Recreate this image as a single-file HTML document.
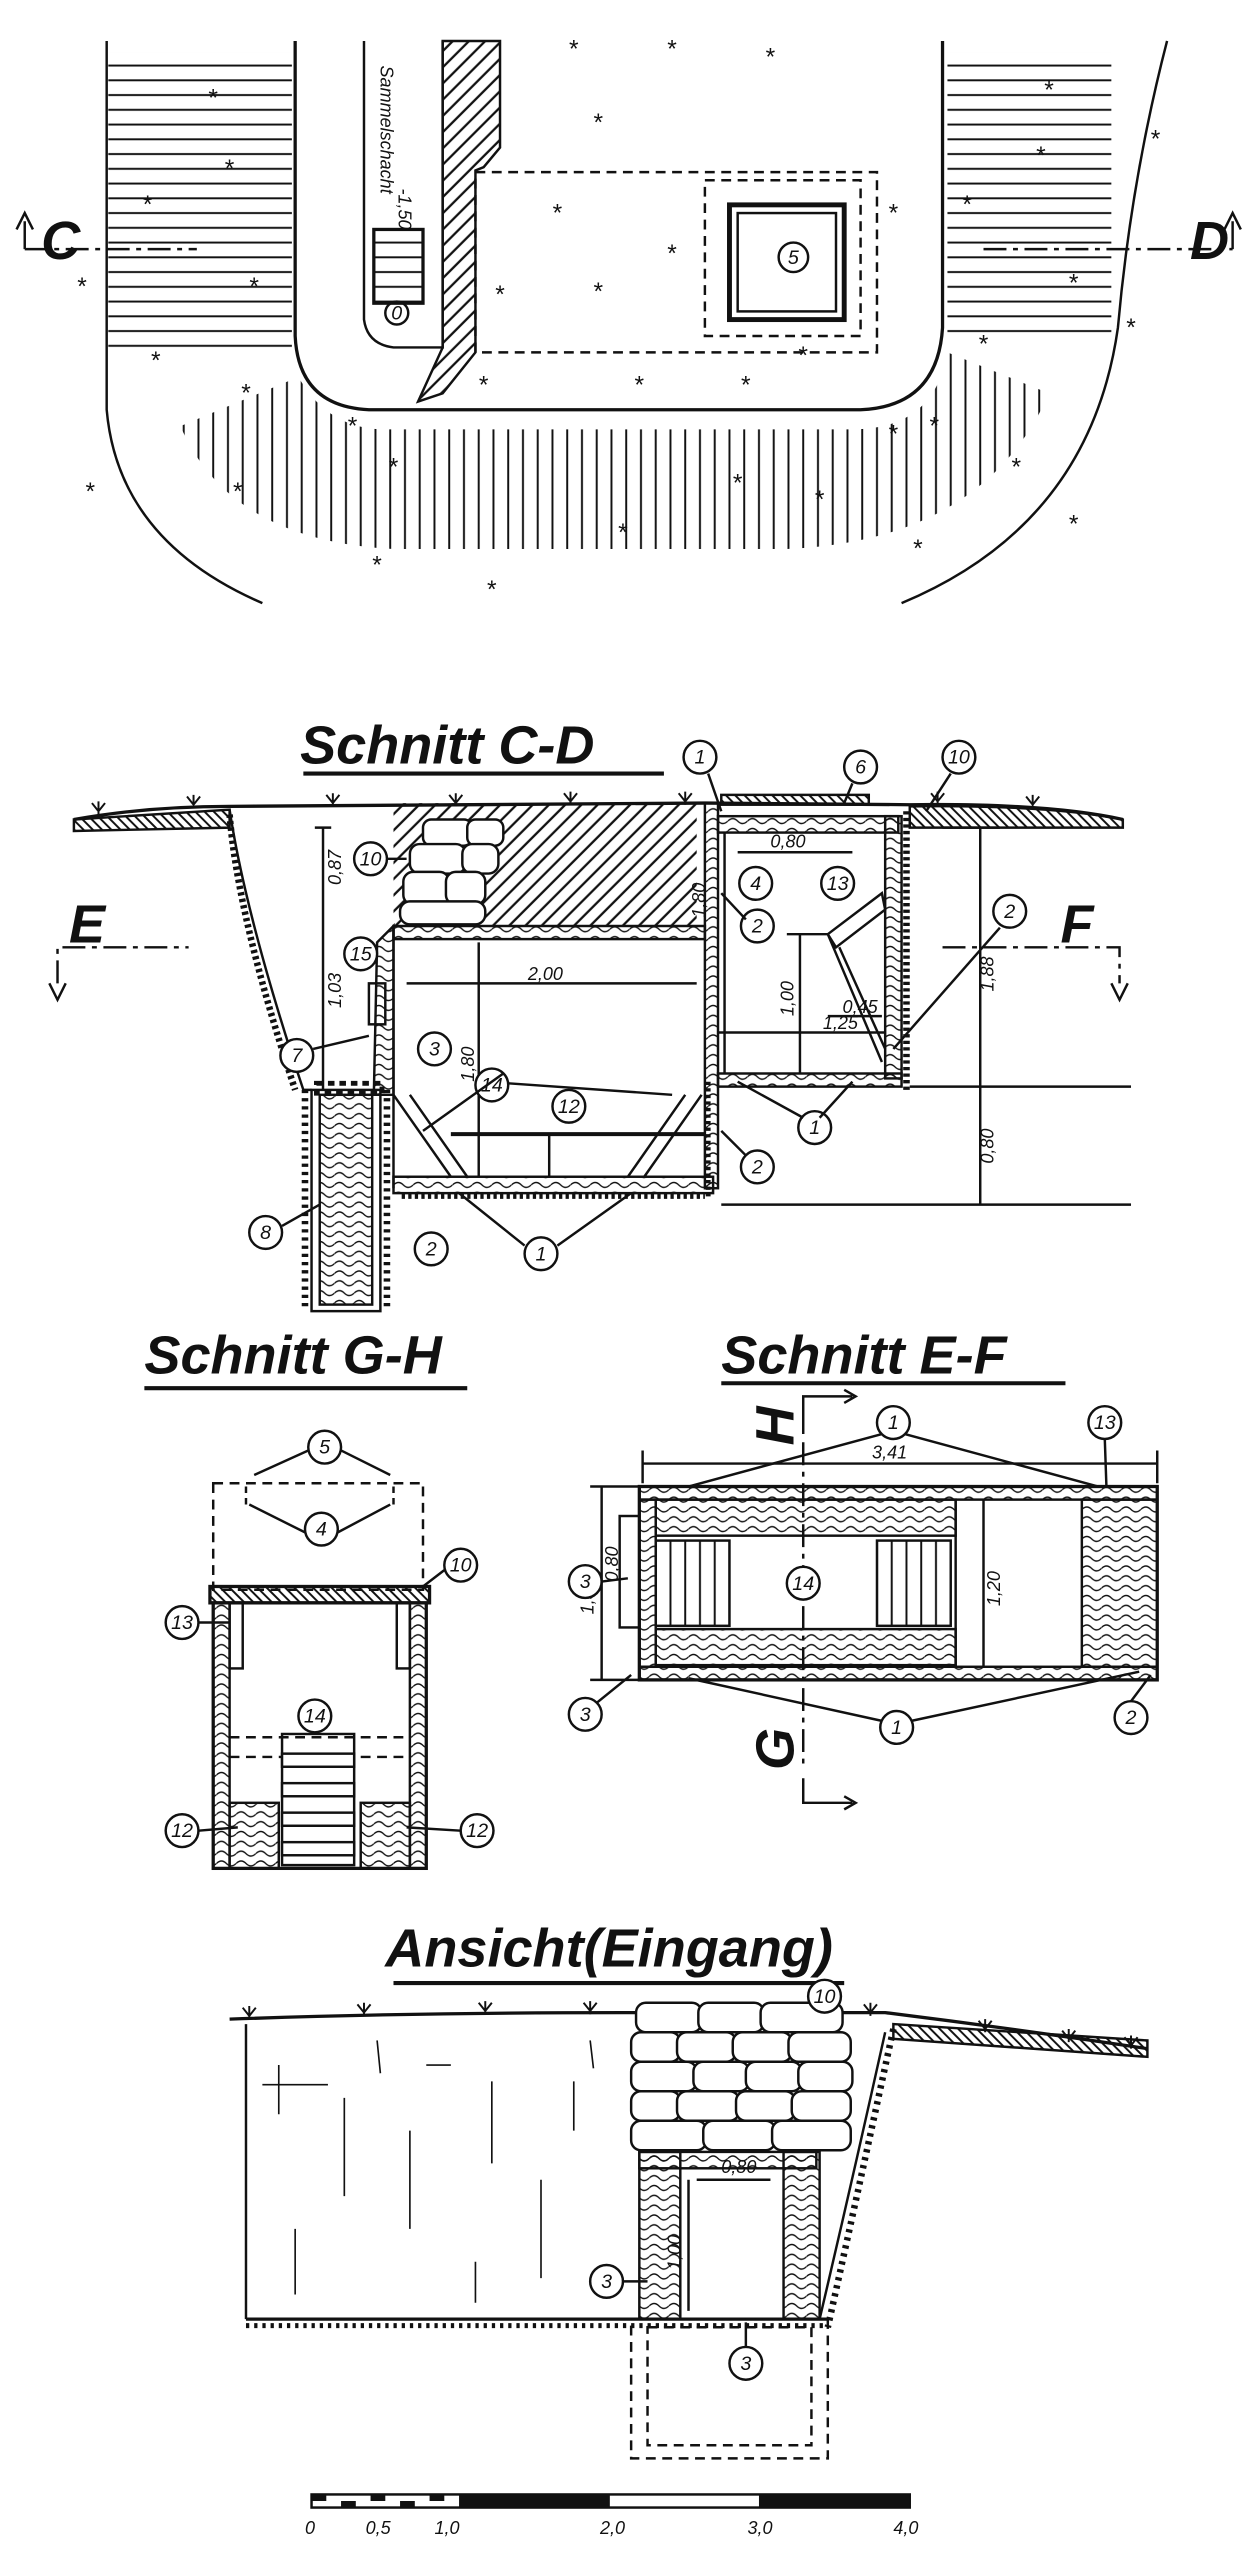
<!DOCTYPE html>
<html><head><meta charset="utf-8"><style>
html,body{margin:0;padding:0;background:#fff}
svg{display:block}
text{font-family:"Liberation Sans",sans-serif;fill:#111;stroke:none}
.t{font-style:italic;font-weight:bold;font-size:33px}
.n{font-size:12px;text-anchor:middle;font-style:italic}
.d{font-size:11px;font-style:italic}
.s{font-size:15px;text-anchor:middle}
</style></head><body>
<svg width="1259" height="2560" viewBox="0 0 768 1562" xmlns="http://www.w3.org/2000/svg" stroke="#111" fill="none" stroke-width="1.5">
<defs>
<pattern id="hh" width="9" height="9" patternUnits="userSpaceOnUse"><line x1="0" y1="4" x2="9" y2="4" stroke="#111" stroke-width="1.2"/></pattern>
<pattern id="hv" width="9" height="9" patternUnits="userSpaceOnUse"><line x1="4" y1="0" x2="4" y2="9" stroke="#111" stroke-width="1.2"/></pattern>
<pattern id="hd" width="7" height="7" patternUnits="userSpaceOnUse" patternTransform="rotate(-45)"><line x1="0" y1="3" x2="7" y2="3" stroke="#111" stroke-width="1.4"/></pattern>
<pattern id="hdd" width="4" height="4" patternUnits="userSpaceOnUse" patternTransform="rotate(45)"><line x1="0" y1="2" x2="4" y2="2" stroke="#111" stroke-width="1.2"/></pattern>
<pattern id="wood" width="12" height="6" patternUnits="userSpaceOnUse"><path d="M0 3 Q3 0 6 3 T12 3" stroke="#111" stroke-width="0.8" fill="none"/></pattern>
</defs>

<!-- ===== PLAN ===== -->
<path d="M65,25 L65,250 Q72,330 160,368"/>
<path d="M712,25 Q690,110 682,200 Q665,320 550,368"/>
<rect x="66" y="32" width="112" height="185" fill="url(#hh)" stroke="none"/>
<rect x="578" y="32" width="100" height="178" fill="url(#hh)" stroke="none"/>
<path d="M182,230 Q200,262 235,262 L520,262 Q570,262 578,215 L640,240 Q600,330 480,335 L240,335 Q140,330 110,260 Z" fill="url(#hv)" stroke="none"/>
<path d="M180,25 L180,205 Q182,248 225,250 L525,250 Q572,248 575,200 L575,25" stroke-width="2"/>
<path d="M222,25 L222,195 Q224,210 240,212 L270,212 L270,25"/>
<path d="M270,25 L305,25 L305,90 L295,102 L290,104 L290,215 L270,240 L255,245 L270,212 Z" fill="url(#hd)"/>
<rect x="228" y="140" width="30" height="45" fill="url(#hh)" stroke-width="2"/>
<circle cx="242" cy="191" r="7"/><text x="242" y="195" class="n">0</text>
<text x="232" y="40" class="d" transform="rotate(90 232 40)" font-size="12">Sammelschacht</text>
<text x="243" y="115" class="d" transform="rotate(90 243 115)">-1,50</text>
<rect x="290" y="105" width="245" height="110" stroke-dasharray="6 4"/>
<rect x="430" y="110" width="95" height="95" stroke-dasharray="6 4"/>
<rect x="445" y="125" width="70" height="70" stroke-width="3"/>
<rect x="450" y="130" width="60" height="60"/>
<circle cx="484" cy="157" r="9"/><text x="484" y="161" class="n">5</text>
<line x1="15" y1="152" x2="120" y2="152" stroke-dasharray="14 4 3 4"/>
<line x1="600" y1="152" x2="752" y2="152" stroke-dasharray="14 4 3 4"/>
<path d="M15,152 L15,135 M10,140 L15,130 L20,140"/>
<path d="M752,152 L752,135 M747,140 L752,130 L757,140"/>
<text x="25" y="158" class="t" font-size="24" font-style="normal">C</text>
<text x="726" y="158" class="t" font-size="24">D</text>
<g class="s" stroke="none" font-size="16">
<text x="130" y="65">*</text><text x="90" y="130">*</text><text x="50" y="180">*</text><text x="155" y="180">*</text><text x="140" y="108">*</text><text x="95" y="225">*</text><text x="150" y="245">*</text><text x="55" y="305">*</text><text x="145" y="305">*</text><text x="230" y="350">*</text><text x="300" y="365">*</text><text x="215" y="265">*</text><text x="240" y="290">*</text><text x="380" y="330">*</text><text x="450" y="300">*</text><text x="500" y="310">*</text><text x="560" y="340">*</text><text x="620" y="290">*</text><text x="655" y="325">*</text><text x="350" y="35">*</text><text x="410" y="35">*</text><text x="470" y="40">*</text><text x="365" y="80">*</text><text x="340" y="135">*</text><text x="410" y="160">*</text><text x="365" y="183">*</text><text x="305" y="185">*</text><text x="490" y="222">*</text><text x="545" y="135">*</text><text x="390" y="240">*</text><text x="455" y="240">*</text><text x="295" y="240">*</text><text x="640" y="60">*</text><text x="705" y="90">*</text><text x="635" y="100">*</text><text x="590" y="130">*</text><text x="655" y="178">*</text><text x="690" y="205">*</text><text x="600" y="215">*</text><text x="570" y="265">*</text><text x="545" y="270">*</text>
</g>

<!-- ===== SCHNITT C-D ===== -->
<text x="183" y="466" class="t">Schnitt C-D</text>
<line x1="185" y1="472" x2="405" y2="472" stroke-width="2.5"/>
<path d="M45,500 Q90,492 140,492 L430,490 L555,491 Q640,490 685,500" stroke-width="2"/>
<path d="M45,500 L140,494 L140,505 L45,507 Z" fill="url(#hdd)"/>
<path d="M555,492 Q640,491 685,500 L685,505 L555,505 Z" fill="url(#hdd)"/>
<path d="M240,490 L425,490 L425,565 L240,565 Z" fill="url(#hd)" stroke="none"/>
<path d="M140,494 Q150,560 185,665 L190,665"/>
<path d="M140,497 Q145,560 180,665" stroke-width="4" stroke-dasharray="2 2"/>
<g fill="#fff" stroke-width="1.5">
<rect x="258" y="500" width="30" height="16" rx="5"/><rect x="285" y="500" width="22" height="16" rx="5"/>
<rect x="250" y="515" width="34" height="18" rx="6"/><rect x="282" y="515" width="22" height="18" rx="6"/>
<rect x="246" y="532" width="28" height="20" rx="6"/><rect x="272" y="532" width="24" height="20" rx="6"/>
<rect x="244" y="550" width="52" height="14" rx="6"/>
</g>
<rect x="240" y="565" width="190" height="8" fill="url(#wood)"/>
<rect x="240" y="718" width="195" height="10" fill="url(#wood)"/>
<rect x="430" y="490" width="8" height="235" fill="url(#wood)"/>
<rect x="438" y="498" width="110" height="10" fill="url(#wood)"/>
<rect x="540" y="498" width="10" height="160" fill="url(#wood)"/>
<rect x="438" y="655" width="112" height="8" fill="url(#wood)"/>
<line x1="240" y1="565" x2="240" y2="725"/>
<rect x="440" y="485" width="90" height="6" fill="url(#hdd)"/>
<line x1="553" y1="495" x2="553" y2="665" stroke-width="4" stroke-dasharray="2 2"/>
<line x1="432" y1="730" x2="432" y2="660" stroke-width="3" stroke-dasharray="2 2"/>
<line x1="245" y1="730" x2="430" y2="730" stroke-width="3" stroke-dasharray="2 2"/>
<rect x="190" y="665" width="42" height="135" fill="none"/>
<rect x="195" y="668" width="32" height="128" fill="url(#wood)"/>
<line x1="186" y1="665" x2="186" y2="800" stroke-width="4" stroke-dasharray="2 3"/>
<line x1="236" y1="665" x2="236" y2="800" stroke-width="4" stroke-dasharray="2 3"/>
<rect x="193" y="661" width="40" height="6" stroke-dasharray="4 3" stroke-width="3"/>
<path d="M240,668 L275,718 M250,668 L285,718"/>
<path d="M428,668 L393,718 M418,668 L383,718"/>
<line x1="275" y1="692" x2="430" y2="692" stroke-width="2.5"/>
<line x1="335" y1="692" x2="335" y2="718"/>
<path d="M230,575 L240,565 L240,668 L228,668 Z" fill="url(#wood)"/>
<rect x="225" y="600" width="10" height="25"/>
<path d="M505,570 L538,545 L540,555 L510,578 Z M505,570 L538,648 M512,578 L540,640"/>
<line x1="480" y1="570" x2="505" y2="570"/>
<path d="M197,505 L197,665 M192,505 L202,505"/>
<text x="208" y="540" class="d" transform="rotate(-90 208 540)">0,87</text>
<text x="208" y="615" class="d" transform="rotate(-90 208 615)">1,03</text>
<path d="M248,600 L425,600"/><text x="322" y="598" class="d">2,00</text>
<path d="M292,575 L292,718"/><text x="289" y="660" class="d" transform="rotate(-90 289 660)">1,80</text>
<path d="M442,508 L442,655"/><text x="430" y="560" class="d" transform="rotate(-90 430 560)">1,80</text>
<path d="M450,520 L520,520"/><text x="470" y="517" class="d">0,80</text>
<path d="M488,570 L488,655"/><text x="484" y="620" class="d" transform="rotate(-90 484 620)">1,00</text>
<path d="M505,620 L538,620"/><text x="514" y="618" class="d" font-size="9">0,45</text>
<path d="M438,630 L540,630"/><text x="502" y="628" class="d">1,25</text>
<path d="M598,505 L598,735 M575,505 L610,505 M555,663 L690,663 M440,735 L690,735"/>
<text x="606" y="605" class="d" transform="rotate(-90 606 605)">1,88</text>
<text x="606" y="710" class="d" transform="rotate(-90 606 710)">0,80</text>
<path d="M35,600 L35,578 L115,578" stroke-dasharray="14 4 3 4"/>
<path d="M30,600 L35,610 L40,600"/>
<text x="42" y="575" class="t" font-size="26">E</text>
<path d="M575,578 L683,578 L683,600" stroke-dasharray="14 4 3 4"/>
<path d="M678,600 L683,610 L688,600"/>
<text x="647" y="575" class="t" font-size="26">F</text>
<g stroke-width="1.2"><path d="M60,497 l0,-8 M56,490 l4,5 l4,-5 M118,493 l0,-8 M114,486 l4,5 l4,-5 M203,492 l0,-8 M199,485 l4,5 l4,-5 M278,492 l0,-8 M274,485 l4,5 l4,-5 M348,491 l0,-8 M344,484 l4,5 l4,-5 M418,491 l0,-8 M414,484 l4,5 l4,-5 M572,491 l0,-8 M568,484 l4,5 l4,-5 M630,493 l0,-8 M626,486 l4,5 l4,-5"/></g>
<g fill="#fff">
<circle cx="427" cy="462" r="10"/><circle cx="525" cy="468" r="10"/><circle cx="585" cy="462" r="10"/>
<circle cx="226" cy="524" r="10"/><circle cx="461" cy="539" r="10"/><circle cx="511" cy="539" r="10"/>
<circle cx="462" cy="565" r="10"/><circle cx="616" cy="556" r="10"/><circle cx="220" cy="582" r="10"/>
<circle cx="181" cy="644" r="10"/><circle cx="265" cy="640" r="10"/><circle cx="300" cy="662" r="10"/>
<circle cx="347" cy="675" r="10"/><circle cx="497" cy="688" r="10"/><circle cx="462" cy="712" r="10"/>
<circle cx="162" cy="752" r="10"/><circle cx="263" cy="762" r="10"/><circle cx="330" cy="765" r="10"/>
</g>
<g class="n">
<text x="427" y="466">1</text><text x="525" y="472">6</text><text x="585" y="466">10</text>
<text x="226" y="528">10</text><text x="461" y="543">4</text><text x="511" y="543">13</text>
<text x="462" y="569">2</text><text x="616" y="560">2</text><text x="220" y="586">15</text>
<text x="181" y="648">7</text><text x="265" y="644">3</text><text x="300" y="666">14</text>
<text x="347" y="679">12</text><text x="497" y="692">1</text><text x="462" y="716">2</text>
<text x="162" y="756">8</text><text x="263" y="766">2</text><text x="330" y="769">1</text>
</g>
<path d="M432,472 L440,495 M520,478 L515,490 M580,472 L565,495 M236,524 L248,524 M455,561 L440,545 M610,566 L545,640 M191,640 L225,632 M307,655 L258,690 M310,661 L410,668 M490,682 L450,660 M500,682 L520,660 M455,705 L440,690 M172,748 L195,735 M340,760 L385,728 M320,760 L280,728"/>

<!-- ===== SCHNITT G-H ===== -->
<text x="88" y="838" class="t" font-size="31">Schnitt G-H</text>
<line x1="88" y1="847" x2="285" y2="847" stroke-width="2.5"/>
<rect x="130" y="905" width="128" height="65" stroke-dasharray="6 4"/>
<path d="M150,918 L150,905 M240,918 L240,905" stroke-dasharray="4 3"/>
<rect x="128" y="968" width="134" height="10" fill="url(#hdd)" stroke-width="2"/>
<rect x="130" y="978" width="130" height="162" stroke-width="2"/>
<rect x="130" y="978" width="10" height="162" fill="url(#wood)"/>
<rect x="250" y="978" width="10" height="162" fill="url(#wood)"/>
<rect x="140" y="978" width="8" height="40"/><rect x="242" y="978" width="8" height="40"/>
<line x1="140" y1="1060" x2="250" y2="1060" stroke-dasharray="6 4"/>
<line x1="140" y1="1072" x2="250" y2="1072" stroke-dasharray="6 4"/>
<rect x="172" y="1058" width="44" height="80" fill="none"/>
<g fill="#fff"><rect x="172" y="1070" width="44" height="8"/><rect x="172" y="1088" width="44" height="8"/><rect x="172" y="1106" width="44" height="8"/><rect x="172" y="1124" width="44" height="8"/></g>
<rect x="140" y="1100" width="30" height="40" fill="url(#wood)"/>
<rect x="220" y="1100" width="30" height="40" fill="url(#wood)"/>
<g fill="#fff"><circle cx="198" cy="883" r="10"/><circle cx="196" cy="933" r="10"/><circle cx="281" cy="955" r="10"/><circle cx="111" cy="990" r="10"/><circle cx="192" cy="1047" r="10"/><circle cx="111" cy="1117" r="10"/><circle cx="291" cy="1117" r="10"/></g>
<g class="n"><text x="198" y="887">5</text><text x="196" y="937">4</text><text x="281" y="959">10</text><text x="111" y="994">13</text><text x="192" y="1051">14</text><text x="111" y="1121">12</text><text x="291" y="1121">12</text></g>
<path d="M188,885 L155,900 M208,885 L238,900 M186,935 L152,918 M206,935 L238,918 M271,958 L258,968 M121,990 L140,990 M121,1117 L145,1115 M281,1117 L248,1115"/>

<!-- ===== SCHNITT E-F ===== -->
<text x="440" y="838" class="t" font-size="31">Schnitt E-F</text>
<line x1="440" y1="844" x2="650" y2="844" stroke-width="2.5"/>
<path d="M490,875 L490,852 L520,852 M515,848 L522,852 L515,856"/>
<text x="484" y="882" class="t" font-size="22" transform="rotate(-90 484 882)">H</text>
<path d="M490,1085 L490,1100 L520,1100 M515,1096 L522,1100 L515,1104"/>
<text x="484" y="1080" class="t" font-size="22" transform="rotate(-90 484 1080)">G</text>
<line x1="490" y1="880" x2="490" y2="1080" stroke-dasharray="14 4 3 4"/>
<path d="M392,893 L706,893 M392,885 L392,905 M706,885 L706,905"/><text x="532" y="890" class="d">3,41</text>
<rect x="390" y="907" width="316" height="118" stroke-width="2"/>
<rect x="390" y="907" width="316" height="8" fill="url(#wood)"/>
<rect x="390" y="1017" width="316" height="8" fill="url(#wood)"/>
<rect x="390" y="915" width="10" height="102" fill="url(#wood)"/>
<rect x="660" y="915" width="46" height="102" fill="url(#wood)"/>
<rect x="378" y="925" width="12" height="68"/>
<rect x="400" y="915" width="183" height="22" fill="url(#wood)"/>
<rect x="400" y="994" width="183" height="22" fill="url(#wood)"/>
<rect x="400" y="940" width="45" height="52" fill="url(#hv)"/>
<rect x="535" y="940" width="45" height="52" fill="url(#hv)"/>
<line x1="583" y1="915" x2="583" y2="1017"/>
<path d="M600,915 L600,1017"/><text x="610" y="980" class="d" transform="rotate(-90 610 980)">1,20</text>
<path d="M367,907 L367,1025 M360,907 L390,907 M360,1025 L390,1025"/>
<text x="362" y="985" class="d" transform="rotate(-90 362 985)">1,36</text>
<text x="377" y="965" class="d" transform="rotate(-90 377 965)">0,80</text>
<g fill="#fff"><circle cx="545" cy="868" r="10"/><circle cx="674" cy="868" r="10"/><circle cx="490" cy="966" r="10"/><circle cx="357" cy="965" r="10"/><circle cx="357" cy="1046" r="10"/><circle cx="547" cy="1054" r="10"/><circle cx="690" cy="1048" r="10"/></g>
<g class="n"><text x="545" y="872">1</text><text x="674" y="872">13</text><text x="490" y="970">14</text><text x="357" y="969">3</text><text x="357" y="1050">3</text><text x="547" y="1058">1</text><text x="690" y="1052">2</text></g>
<path d="M538,875 L420,907 M552,875 L670,907 M674,878 L675,907 M367,965 L383,963 M364,1039 L385,1022 M538,1050 L420,1024 M556,1050 L695,1020 M690,1038 L702,1022"/>

<!-- ===== ANSICHT ===== -->
<text x="235" y="1200" class="t" font-size="30">Ansicht(Eingang)</text>
<line x1="240" y1="1210" x2="515" y2="1210" stroke-width="2.5"/>
<path d="M140,1232 Q250,1228 380,1228 L540,1228 Q620,1238 700,1250" stroke-width="2"/>
<path d="M545,1235 L700,1245 L700,1255 L545,1244 Z" fill="url(#hdd)"/>
<path d="M150,1235 L150,1415 M540,1240 Q520,1330 500,1415" />
<path d="M545,1238 Q525,1330 505,1420" stroke-width="4" stroke-dasharray="2 3"/>
<g stroke-width="1"><path d="M170,1260 L170,1290 M160,1272 L200,1272 M210,1280 L210,1340 M250,1300 L250,1360 M300,1270 L300,1320 M330,1330 L330,1390 M180,1360 L180,1400 M260,1260 L275,1260 M350,1270 L350,1300 M290,1380 L290,1405 M230,1245 L232,1265 M360,1245 L362,1262"/></g>
<g fill="#fff" stroke-width="1.5">
<rect x="388" y="1222" width="40" height="18" rx="6"/><rect x="426" y="1222" width="40" height="18" rx="6"/><rect x="464" y="1222" width="50" height="18" rx="6"/>
<rect x="385" y="1240" width="30" height="18" rx="6"/><rect x="413" y="1240" width="36" height="18" rx="6"/><rect x="447" y="1240" width="36" height="18" rx="6"/><rect x="481" y="1240" width="38" height="18" rx="6"/>
<rect x="385" y="1258" width="40" height="18" rx="6"/><rect x="423" y="1258" width="34" height="18" rx="6"/><rect x="455" y="1258" width="34" height="18" rx="6"/><rect x="487" y="1258" width="33" height="18" rx="6"/>
<rect x="385" y="1276" width="30" height="18" rx="6"/><rect x="413" y="1276" width="38" height="18" rx="6"/><rect x="449" y="1276" width="36" height="18" rx="6"/><rect x="483" y="1276" width="36" height="18" rx="6"/>
<rect x="385" y="1294" width="46" height="18" rx="6"/><rect x="429" y="1294" width="44" height="18" rx="6"/><rect x="471" y="1294" width="48" height="18" rx="6"/>
</g>
<rect x="390" y="1313" width="108" height="10" fill="url(#wood)"/>
<rect x="390" y="1313" width="25" height="102" fill="url(#wood)"/>
<rect x="478" y="1313" width="22" height="102" fill="url(#wood)"/>
<line x1="150" y1="1415" x2="505" y2="1415" stroke-width="2"/>
<line x1="150" y1="1419" x2="505" y2="1419" stroke-width="3" stroke-dasharray="2 3"/>
<rect x="385" y="1415" width="120" height="85" stroke-dasharray="6 4"/>
<rect x="395" y="1420" width="100" height="72" stroke-dasharray="6 4"/>
<path d="M425,1330 L470,1330"/><text x="440" y="1326" class="d">0,80</text>
<path d="M420,1330 L420,1410"/><text x="415" y="1385" class="d" transform="rotate(-90 415 1385)">1,00</text>
<g fill="#fff"><circle cx="503" cy="1218" r="10"/><circle cx="370" cy="1392" r="10"/><circle cx="455" cy="1442" r="10"/></g>
<g class="n"><text x="503" y="1222">10</text><text x="370" y="1396">3</text><text x="455" y="1446">3</text></g>
<path d="M380,1392 L395,1392 M455,1432 L455,1417"/>
<g stroke-width="1.2"><path d="M152,1232 l0,-8 M148,1225 l4,5 l4,-5 M222,1230 l0,-8 M218,1223 l4,5 l4,-5 M296,1229 l0,-8 M292,1222 l4,5 l4,-5 M360,1229 l0,-8 M356,1222 l4,5 l4,-5 M531,1230 l0,-8 M527,1223 l4,5 l4,-5 M601,1240 l0,-8 M597,1233 l4,5 l4,-5 M652,1246 l0,-8 M648,1239 l4,5 l4,-5 M690,1250 l0,-8 M686,1243 l4,5 l4,-5"/></g>

<!-- ===== SCALE ===== -->
<rect x="190" y="1522" width="365" height="8"/>
<g fill="#111" stroke="none">
<rect x="190" y="1522" width="9" height="4"/><rect x="208" y="1526" width="9" height="4"/><rect x="226" y="1522" width="9" height="4"/><rect x="244" y="1526" width="9" height="4"/><rect x="262" y="1522" width="9" height="4"/>
<rect x="280" y="1522" width="92" height="8"/><rect x="463" y="1522" width="92" height="8"/>
</g>
<g class="d" font-size="10"><text x="186" y="1546">0</text><text x="223" y="1546">0,5</text><text x="265" y="1546">1,0</text><text x="366" y="1546">2,0</text><text x="456" y="1546">3,0</text><text x="545" y="1546">4,0</text></g>
</svg>
</body></html>
